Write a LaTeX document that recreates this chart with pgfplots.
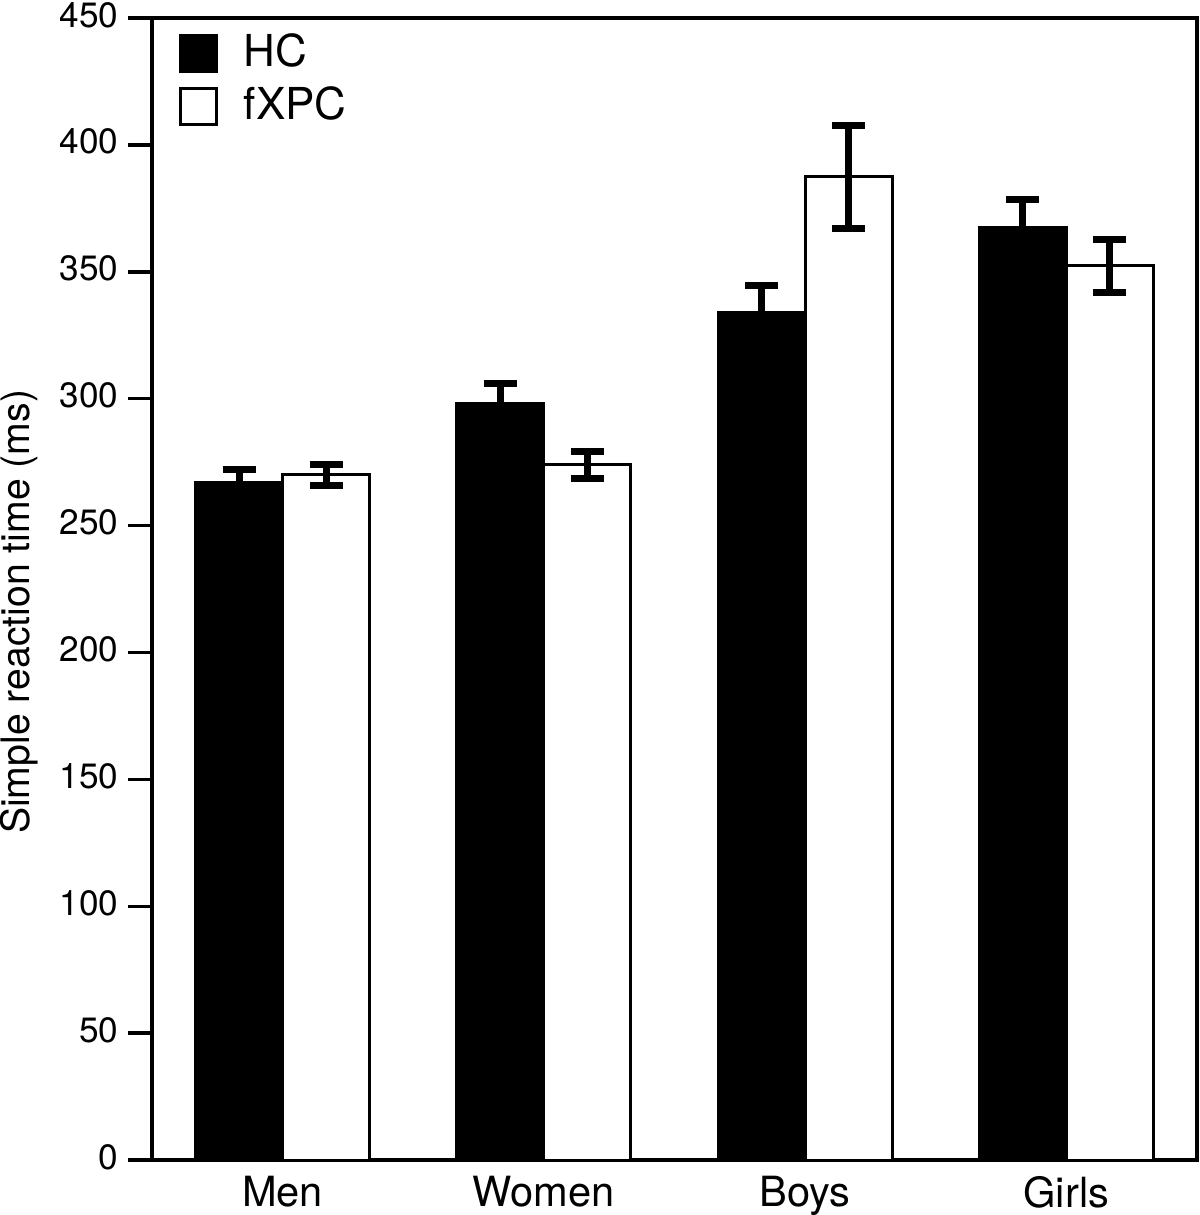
\documentclass[border=0pt]{standalone}
\usepackage{fontspec}
\setmainfont{TeX Gyre Heros}
\usepackage{pgfplots}
\pgfplotsset{compat=1.18}

% mean simple reaction time and SEM per group
\begin{document}
\begin{tikzpicture}
\path[use as bounding box] (-38pt,-13.75pt) rectangle (262pt,290pt);
\begin{axis}[
    scale only axis,
    width=261.25pt, height=285.5pt,
    ybar=0pt, bar width=21.75pt,
    xmin=-0.5, xmax=3.5,
    ymin=0, ymax=450,
    xtick={0,1,2,3},
    xticklabels={Men,Women,Boys,Girls},
    ytick={0,50,...,450},
    ytick pos=left,
    tick align=outside,
    major tick length=6pt,
    x tick style={draw=none},
    y tick style={line width=0.85pt, black},
    axis line style={line width=0.85pt},
    /pgf/number format/assume math mode=true,
    yticklabel style={font=\fontsize{8.8}{10}\selectfont, inner sep=0pt, xshift=-2.2pt, yshift=0.8pt},
    xticklabel style={font=\fontsize{10.4}{12}\selectfont, inner sep=0pt, anchor=north, yshift=2.2pt},
    ylabel={Simple reaction time (ms)},
    ylabel style={font=\fontsize{9.8}{12}\selectfont, anchor=center,
        at={(axis description cs:-0.127,0.48)}},
    legend style={draw=none, fill=none, at={(axis description cs:0.025,0.987)},
        anchor=north west, font=\fontsize{11}{13}\selectfont,
        row sep=3.5pt, inner sep=0pt, nodes={inner sep=0pt},
        /tikz/every odd column/.append style={column sep=6.5pt}},
    legend cell align=left,
    legend image code/.code={\draw[#1, line width=0.75pt] (0pt,-4.5pt) rectangle (9pt,4.5pt);},
    error bars/error bar style={line width=1.7pt, black},
    error bars/error mark options={rotate=90, mark size=4.1pt, line width=1.7pt, black},
]
\addplot[fill=black, draw=black, line width=0.75pt,
    error bars/.cd, y dir=both, y explicit]
    coordinates {
    (0,267) +- (0,5)
    (1,298) +- (0,8)
    (2,334) +- (0,10.5)
    (3,367.5) +- (0,11)
    };
\addplot[fill=white, draw=black, line width=0.75pt,
    error bars/.cd, y dir=both, y explicit]
    coordinates {
    (0,270) +- (0,4.2)
    (1,274) +- (0,5.3)
    (2,387.5) +- (0,20.3)
    (3,352.3) +- (0,10.5)
    };
\legend{HC,fXPC}
\end{axis}
\end{tikzpicture}
\end{document}
